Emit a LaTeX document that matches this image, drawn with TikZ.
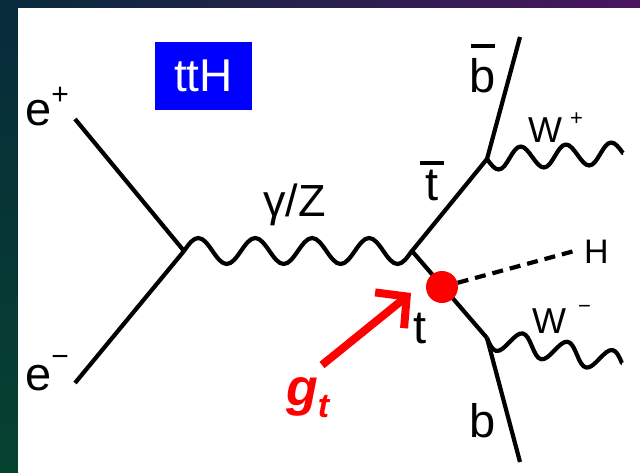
\documentclass[tikz,border=0pt]{standalone}
\usepackage{fontspec}
\setmainfont{Liberation Sans}
\usetikzlibrary{arrows.meta,decorations}
\definecolor{slteal}{HTML}{072B3B}
\definecolor{slgreen}{HTML}{064230}
\definecolor{slnavy}{HTML}{1D2547}
\definecolor{slpurple}{HTML}{4A155F}
\newcommand\fsz[1]{\fontsize{#1}{#1}\selectfont}
\newcommand\antiq[2]{\vbox{\offinterlineskip\hbox to 24pt{\hss\vrule width 24pt height 3.5pt\hss}\kern#1\hbox to 24pt{\hss#2\hss}}}
\newcommand\chrg[3]{\raisebox{#1}{\fsz{#2}#3}}

\pgfdeclaredecoration{wavy}{initial}{
  \state{initial}[width=\pgfdecorationsegmentlength]{
    \pgfpathcurveto{\pgfpoint{0.0836*\pgfdecorationsegmentlength}{0.5251*(\pgfdecorationsegmentamplitude)}}
                   {\pgfpoint{0.16*\pgfdecorationsegmentlength}{\pgfdecorationsegmentamplitude}}
                   {\pgfpoint{0.25*\pgfdecorationsegmentlength}{\pgfdecorationsegmentamplitude}}
    \pgfpathcurveto{\pgfpoint{0.34*\pgfdecorationsegmentlength}{\pgfdecorationsegmentamplitude}}
                   {\pgfpoint{0.4164*\pgfdecorationsegmentlength}{0.5251*(\pgfdecorationsegmentamplitude)}}
                   {\pgfpoint{0.5*\pgfdecorationsegmentlength}{0pt}}
    \pgfpathcurveto{\pgfpoint{0.5836*\pgfdecorationsegmentlength}{-0.5251*(\pgfdecorationsegmentamplitude)}}
                   {\pgfpoint{0.66*\pgfdecorationsegmentlength}{-(\pgfdecorationsegmentamplitude)}}
                   {\pgfpoint{0.75*\pgfdecorationsegmentlength}{-(\pgfdecorationsegmentamplitude)}}
    \pgfpathcurveto{\pgfpoint{0.84*\pgfdecorationsegmentlength}{-(\pgfdecorationsegmentamplitude)}}
                   {\pgfpoint{0.9164*\pgfdecorationsegmentlength}{-0.5251*(\pgfdecorationsegmentamplitude)}}
                   {\pgfpoint{\pgfdecorationsegmentlength}{0pt}}
  }
  \state{final}{\pgfpathlineto{\pgfpointdecoratedpathlast}}
}

\begin{document}
\begin{tikzpicture}[x=1pt,y=-1pt,
    fm/.style={line width=4.2pt},
    ph/.style 2 args={line width=4.2pt, line join=round, decorate,
               decoration={wavy, segment length=#1, amplitude=#2}},
    hl/.style={line width=4.2pt, dash pattern=on 11pt off 7pt},
    ga/.style={red, line width=8pt, -{Straight Barb[length=22pt,width=46pt]}},
    dot/.style={circle, fill=red, minimum size=32pt, inner sep=0pt},
    tag/.style={fill=blue, text=white, minimum width=97pt, minimum height=68pt,
                inner sep=0pt, font=\fsz{46}},
    lb/.style={inner sep=0pt, font=\fsz{47}}
  ]
    \useasboundingbox (0,0) rectangle (640,472);
    \shade[left color=slteal, middle color=slnavy, right color=slpurple] (0,0) rectangle (640,8);
    \shade[top color=slteal, bottom color=slgreen] (0,0) rectangle (18,472);
    \fill[white] (18,8) rectangle (640,472);

    \node[tag] (box) at (203.5,76) {ttH};

    \coordinate (ep)  at (75,119);
    \coordinate (em)  at (75,383);
    \coordinate (v1)  at (184,251);
    \coordinate (v2)  at (412,251);
    \coordinate (v3)  at (487,159);
    \coordinate (v4)  at (487,338);
    \coordinate (bb)  at (520,37);
    \coordinate (bq)  at (520,462);
    \coordinate (wp)  at (623,153);
    \coordinate (wm)  at (622,363);
    \coordinate (hend) at (578,250);
    \coordinate (gtail) at (322,365);
    \coordinate (gtip)  at (411,293);

    \draw[fm] (ep) -- (v1); \draw[fm] (em) -- (v1);
    \draw[ph={56.95pt}{13pt}] (v1) -- (v2);
    \draw[fm] (v2) -- (v3); \draw[fm] (v3) -- (bb);
    \draw[fm] (v2) -- (v4); \draw[fm] (v4) -- (bq);
    \draw[ph={45.33pt}{-11pt}] (v3) -- (wp);
    \draw[ph={45.72pt}{-11pt}] (v4) -- (wm);
    \node[dot] (gt) at (442,287) {};
    \draw[hl] (gt) -- (hend);
    \draw[ga] (gtail) -- (gtip);

    \node[lb, anchor=base west] (lep) at (25,125) {e\chrg{21pt}{30}{+}};
    \node[lb, anchor=base west] (lem) at (25,390) {e\chrg{24pt}{30}{−}};
    \node[lb, anchor=base west, font=\fsz{45}] (lph) at (263,216) {γ/Z};
    \node[lb, anchor=base] (lbb) at (483,92) {\antiq{10pt}{b}};
    \node[lb, anchor=base] (ltb) at (432,200) {\antiq{5pt}{t}};
    \node[lb, anchor=base] (lt)  at (420,343) {t};
    \node[lb, anchor=base] (lbq) at (483,437) {b};
    \node[lb, anchor=base west, font=\fsz{36}] (lwp) at (528,142) {W\kern8pt\chrg{17pt}{22}{+}};
    \node[lb, anchor=base west, font=\fsz{36}] (lwm) at (532,333) {W\kern12pt\chrg{20pt}{22}{−}};
    \node[lb, anchor=base west, font=\fsz{34}] (lh)  at (584,263) {H};
    \node[lb, anchor=base west, text=red, font=\fsz{52}\bfseries\itshape] (lg) at (286,405)
      {g\raisebox{-12pt}{\fsz{34}t}};
  \end{tikzpicture}
\end{document}
